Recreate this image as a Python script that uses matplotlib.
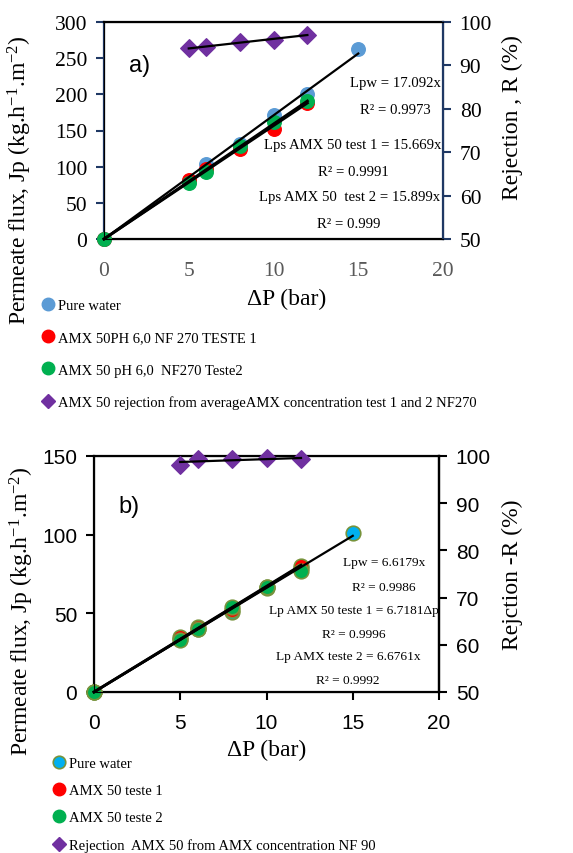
import numpy as np
import matplotlib
matplotlib.use("Agg")
import matplotlib.pyplot as plt
from matplotlib.lines import Line2D

SERIF = "Liberation Serif"
SANS = "Liberation Sans"
plt.rcParams["mathtext.fontset"] = "custom"
plt.rcParams["mathtext.rm"] = SERIF
plt.rcParams["mathtext.it"] = SERIF
plt.rcParams["mathtext.default"] = "rm"

# ---- panel a data (NF270) ----
dp_a = [0, 5, 6, 8, 10, 12, 15]
pure_a = [0, 80, 103, 132, 172, 200, 263]
dp_a_amx = [0, 5, 6, 8, 10, 12]
test1_a = [0, 82, 97, 124, 152, 188]
test2_a = [0, 78, 92, 128, 162, 191]
dp_rej_a = [5, 6, 8, 10, 12]
rej_a = [94.0, 94.2, 95.4, 95.9, 97.1]
slope_pure_a = 17.092
slope_t1_a = 15.669
slope_t2_a = 15.899

labels_a = ["Pure water", "AMX 50PH 6,0 NF 270 TESTE 1",
            "AMX 50 pH 6,0  NF270 Teste2",
            "AMX 50 rejection from averageAMX concentration test 1 and 2 NF270"]
notes_a = ["Lpw = 17.092x", "R² = 0.9973", "Lps AMX 50 test 1 = 15.669x",
           "R² = 0.9991", "Lps AMX 50  test 2 = 15.899x", "R² = 0.999"]

# ---- panel b data (NF90) ----
dp_b = [0, 5, 6, 8, 10, 12, 15]
pure_b = [0, 34, 40, 51, 67, 79, 101]
dp_b_amx = [0, 5, 6, 8, 10, 12]
test1_b = [0, 35, 41, 52, 66, 80]
test2_b = [0, 33, 40, 54, 67, 77]
dp_rej_b = [5, 6, 8, 10, 12]
rej_b = [98.1, 99.4, 99.3, 99.5, 99.3]
slope_pure_b = 6.6179
slope_t1_b = 6.7181
slope_t2_b = 6.6761

labels_b = ["Pure water", "AMX 50 teste 1", "AMX 50 teste 2",
            "Rejection  AMX 50 from AMX concentration NF 90"]
notes_b = ["Lpw = 6.6179x", "R² = 0.9986", "Lp AMX 50 teste 1 = 6.7181\u0394p",
           "R² = 0.9996", "Lp AMX teste 2 = 6.6761x", "R² = 0.9992"]

BLUE, RED, GREEN, PURPLE = "#5B9BD5", "#FF0000", "#00B050", "#7030A0"
CYAN, OLIVE, NAVY = "#00B0F0", "#77933C", "#1F3864"

W, H = 573, 854
fig = plt.figure(figsize=(W / 100, H / 100), dpi=100)


def px(x, y):
    return x / W, 1 - y / H


def box(l, t, r, b):
    return [l / W, 1 - b / H, (r - l) / W, (b - t) / H]


def fitline(ax, x0, x1, slope, lw=1.6):
    xs = np.array([x0, x1])
    ax.plot(xs, slope * xs, color="black", lw=lw, zorder=5, clip_on=False)


# ================= panel a =================
ax = fig.add_axes(box(104, 23, 443, 240))
kw = dict(s=95, zorder=3, clip_on=False)
ax.scatter(dp_a, pure_a, color=BLUE, **kw)
ax.scatter(dp_a_amx, test1_a, color=RED, **kw)
ax.scatter(dp_a_amx, test2_a, color=GREEN, **kw)
fitline(ax, 0, max(dp_a), slope_pure_a)
fitline(ax, 0, max(dp_a_amx), slope_t1_a, 2.0)
fitline(ax, 0, max(dp_a_amx), slope_t2_a, 2.0)
ax.set_xlim(0, 20)
ax.set_ylim(0, 300)
ax.set_xticks(range(0, 21, 5))
ax.set_yticks(range(0, 301, 50))
ax.spines["left"].set_color(NAVY)
for s in ["left", "top", "bottom"]:
    ax.spines[s].set_linewidth(1.6)
ax.tick_params(axis="y", direction="out", color=NAVY, length=6, width=1.5,
               labelsize=15.5, pad=6)
ax.tick_params(axis="x", length=0, labelsize=15.5, labelcolor="#595959", pad=16)
for t in ax.get_xticklabels() + ax.get_yticklabels():
    t.set_fontfamily(SERIF)

ax2 = ax.twinx()
ax2.scatter(dp_rej_a, rej_a, s=80, marker="D", color=PURPLE, zorder=3)
k, c = np.polyfit(dp_rej_a, rej_a, 1)
xs = np.array([dp_rej_a[0], dp_rej_a[-1]])
ax2.plot(xs, k * xs + c, color="black", lw=1.6, zorder=4)
ax2.set_ylim(50, 100)
ax2.set_yticks(range(50, 101, 10))
ax2.spines["right"].set_color(NAVY)
ax2.spines["right"].set_linewidth(1.6)
ax2.tick_params(axis="y", direction="out", color=NAVY, length=6, width=1.5,
                labelsize=15.5, pad=6)
for t in ax2.get_yticklabels():
    t.set_fontfamily(SERIF)

fig.text(*px(140, 66), "a)", fontsize=17, family=SANS, ha="center", va="center")
note_pos_a = [(395, 83), (395, 110), (353, 146), (353, 172), (350, 198), (349, 225)]
for (x, y), s in zip(note_pos_a, notes_a):
    fig.text(*px(x, y), s, fontsize=10.6, family=SERIF, ha="center", va="center")

fig.text(*px(20, 180), "Permeate flux, Jp (kg.h$^{-1}$.m$^{-2}$)", rotation=90,
         fontsize=17, family=SERIF, ha="center", va="center")
fig.text(*px(512, 118), "Rejection , R (%)", rotation=90,
         fontsize=17, family=SERIF, ha="center", va="center")
fig.text(*px(287, 299), "\u0394P (bar)", fontsize=17, family=SERIF,
         ha="center", va="center")

handles_a = [Line2D([], [], ls="", marker="o", ms=9, color=BLUE),
             Line2D([], [], ls="", marker="o", ms=9, color=RED),
             Line2D([], [], ls="", marker="o", ms=9, color=GREEN),
             Line2D([], [], ls="", marker="D", ms=7.5, color=PURPLE)]
fig.legend(handles_a, labels_a, loc="upper left", bbox_to_anchor=px(42, 300),
           frameon=False, prop={"family": SERIF, "size": 10.5}, handlelength=0.8,
           handletextpad=0.3, labelspacing=1.3, borderpad=0, borderaxespad=0)

# ================= panel b =================
bx = fig.add_axes(box(94, 457, 439, 693))
kw = dict(s=110, edgecolors=OLIVE, linewidths=1.2, zorder=3, clip_on=False)
bx.scatter(dp_b, pure_b, color=CYAN, **kw)
bx.scatter(dp_b_amx, test1_b, color=RED, **kw)
bx.scatter(dp_b_amx, test2_b, color=GREEN, **kw)
fitline(bx, 0, max(dp_b), slope_pure_b)
fitline(bx, 0, max(dp_b_amx), slope_t1_b, 2.0)
fitline(bx, 0, max(dp_b_amx), slope_t2_b, 2.0)
bx.set_xlim(0, 20)
bx.set_ylim(0, 150)
bx.set_xticks(range(0, 21, 5))
bx.set_yticks(range(0, 151, 50))
for s in bx.spines.values():
    s.set_linewidth(1.6)
bx.tick_params(direction="out", length=6, width=1.5, labelsize=15, pad=6)
bx.tick_params(axis="x", pad=9)
for t in bx.get_xticklabels() + bx.get_yticklabels():
    t.set_fontfamily(SANS)

bx2 = bx.twinx()
bx2.scatter(dp_rej_b, rej_b, s=80, marker="D", color=PURPLE, zorder=3,
            clip_on=False)
k, c = np.polyfit(dp_rej_b, rej_b, 1)
xs = np.array([dp_rej_b[0], dp_rej_b[-1]])
bx2.plot(xs, k * xs + c, color="black", lw=1.6, zorder=4)
bx2.set_ylim(50, 100)
bx2.set_yticks(range(50, 101, 10))
bx2.spines["right"].set_linewidth(1.6)
bx2.tick_params(direction="out", length=6, width=1.5, labelsize=15, pad=6)
for t in bx2.get_yticklabels():
    t.set_fontfamily(SANS)

fig.text(*px(129, 507), "b)", fontsize=17, family=SANS, ha="center", va="center")
note_pos_b = [(384, 563), (384, 588), (354, 611), (354, 635), (348, 657), (348, 681)]
for (x, y), s in zip(note_pos_b, notes_b):
    fig.text(*px(x, y), s, fontsize=9.6, family=SERIF, ha="center", va="center")

fig.text(*px(22, 611), "Permeate flux, Jp (kg.h$^{-1}$.m$^{-2}$)", rotation=90,
         fontsize=17, family=SERIF, ha="center", va="center")
fig.text(*px(512, 575), "Rejction -R (%)", rotation=90,
         fontsize=17, family=SERIF, ha="center", va="center")
fig.text(*px(267, 750), "\u0394P (bar)", fontsize=17, family=SERIF,
         ha="center", va="center")

handles_b = [Line2D([], [], ls="", marker="o", ms=9, color=CYAN, mec=OLIVE, mew=1.2),
             Line2D([], [], ls="", marker="o", ms=9, color=RED),
             Line2D([], [], ls="", marker="o", ms=9, color=GREEN),
             Line2D([], [], ls="", marker="D", ms=7.5, color=PURPLE)]
fig.legend(handles_b, labels_b, loc="upper left", bbox_to_anchor=px(53, 758),
           frameon=False, prop={"family": SERIF, "size": 10.5}, handlelength=0.8,
           handletextpad=0.3, labelspacing=0.95, borderpad=0, borderaxespad=0)

fig.savefig("out.png", dpi=100)
